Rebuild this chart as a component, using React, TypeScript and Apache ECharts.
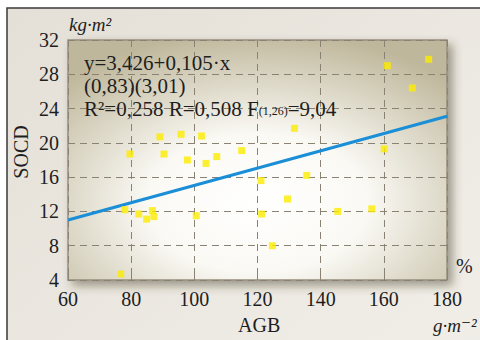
import React, { useEffect, useRef } from "react";
import * as echarts from "echarts";

const agb: number[] = [
  79.6, 89.1, 95.8, 102.3, 90.4, 97.8, 103.7, 107.1,
  161.1, 174.2, 169.0, 131.7, 115.0, 160.1,
  78.0, 82.4, 84.9, 86.7, 87.2, 100.6, 76.7,
  121.1, 135.6, 129.5, 121.3, 145.4, 156.2, 124.7,
];
const socd: number[] = [
  18.7, 20.7, 21.0, 20.8, 18.7, 18.0, 17.6, 18.4,
  29.0, 29.75, 26.4, 21.7, 19.1, 19.3,
  12.2, 11.7, 11.1, 12.1, 11.4, 11.5, 4.7,
  15.6, 16.2, 13.45, 11.7, 12.0, 12.3, 8.0,
];
const fitX: number[] = [60, 180];
const fitY: number[] = [11.0, 23.1];
const xTicks = { min: 60, max: 180, interval: 20 };
const yTicks = { min: 4, max: 32, interval: 4 };
const eqLines: string[] = [
  "y=3,426+0,105·x",
  "(0,83)(3,01)",
  "R²=0,258 R=0,508 F{sub|(1,26)}=9,04",
];

const SERIF = "'Liberation Serif', 'DejaVu Serif', serif";

export default function App() {
  const ref = useRef<HTMLDivElement>(null);
  useEffect(() => {
    if (!ref.current) return;
    const chart = echarts.init(ref.current, undefined, { renderer: "svg" });
    const points = agb.map((x, i) => [x, socd[i]]);
    const line = fitX.map((x, i) => [x, fitY[i]]);
    const textStyleBase = { fontFamily: SERIF, fill: "#1e1e1e" };
    chart.setOption({
      animation: false,
      backgroundColor: "#ffffff",
      grid: {
        left: 68,
        right: 33,
        top: 40,
        bottom: 60,
        show: true,
        borderColor: "#978f7e",
        borderWidth: 1.5,
        backgroundColor: new echarts.graphic.RadialGradient(0.5, 0.68, 0.72, [
          { offset: 0, color: "#ffffff" },
          { offset: 0.4, color: "#faf9f4" },
          { offset: 1, color: "#bfb79b" },
        ]),
        shadowColor: "rgba(60,50,30,0.45)",
        shadowBlur: 10,
        shadowOffsetX: 5,
        shadowOffsetY: 5,
      },
      xAxis: {
        type: "value",
        min: xTicks.min,
        max: xTicks.max,
        interval: xTicks.interval,
        axisLine: { show: false },
        axisTick: { show: true, inside: true, length: 5, lineStyle: { color: "#8a8272" } },
        axisLabel: { fontFamily: SERIF, fontSize: 20, color: "#1e1e1e", margin: 9 },
        splitLine: { show: true, lineStyle: { color: "#8a8272", type: [7, 5], width: 1 } },
      },
      yAxis: {
        type: "value",
        min: yTicks.min,
        max: yTicks.max,
        interval: yTicks.interval,
        axisLine: { show: false },
        axisTick: { show: false },
        axisLabel: { fontFamily: SERIF, fontSize: 20, color: "#1e1e1e", margin: 9 },
        splitLine: { show: true, lineStyle: { color: "#8a8272", type: [7, 5], width: 1 } },
      },
      graphic: [
        {
          type: "rect",
          z: -10,
          silent: true,
          shape: { x: 7, y: 8, width: 600, height: 500 },
          style: {
            fill: new echarts.graphic.LinearGradient(0, 0, 1, 1, [
              { offset: 0, color: "#e4e0d7" },
              { offset: 0.6, color: "#efece6" },
              { offset: 1, color: "#f3f1ec" },
            ]),
            stroke: "#3a3a3a",
            lineWidth: 1.5,
          },
        },
        {
          type: "text",
          left: 84,
          top: 52,
          z: 10,
          style: { ...textStyleBase, text: eqLines[0], fontSize: 21, lineHeight: 21 },
        },
        {
          type: "text",
          left: 84,
          top: 75,
          z: 10,
          style: { ...textStyleBase, text: eqLines[1], fontSize: 21, lineHeight: 21 },
        },
        {
          type: "text",
          left: 84,
          top: 98,
          z: 10,
          style: {
            ...textStyleBase,
            text: eqLines[2],
            fontSize: 21,
            lineHeight: 21,
            rich: {
              sub: { fontFamily: SERIF, fontSize: 12, fill: "#1e1e1e", padding: [5, 0, 0, 0] },
            },
          },
        },
        {
          type: "text",
          left: 69,
          top: 15,
          style: { ...textStyleBase, text: "kg·m²", fontSize: 19, fontStyle: "italic" },
        },
        {
          type: "text",
          left: 238,
          top: 315,
          style: { ...textStyleBase, text: "AGB", fontSize: 20 },
        },
        {
          type: "text",
          left: 433,
          top: 316,
          style: { ...textStyleBase, text: "g·m⁻²", fontSize: 19, fontStyle: "italic" },
        },
        {
          type: "text",
          left: 456,
          top: 256,
          style: { ...textStyleBase, text: "%", fontSize: 20 },
        },
        {
          type: "text",
          x: 21,
          y: 152,
          rotation: Math.PI / 2,
          style: {
            ...textStyleBase,
            text: "SOCD",
            fontSize: 20,
            align: "center",
            verticalAlign: "middle",
          },
        },
      ],
      series: [
        {
          type: "line",
          data: line,
          showSymbol: false,
          symbol: "none",
          lineStyle: { color: "#1a8ed6", width: 3 },
          z: 3,
        },
        {
          type: "scatter",
          data: points,
          symbol: "rect",
          symbolSize: 7,
          itemStyle: { color: "#fcec00" },
          z: 4,
        },
      ],
    });
    return () => chart.dispose();
  }, []);
  return (
    <div
      ref={ref}
      style={{ position: "absolute", left: 0, top: 0, width: 480, height: 340 }}
    />
  );
}
